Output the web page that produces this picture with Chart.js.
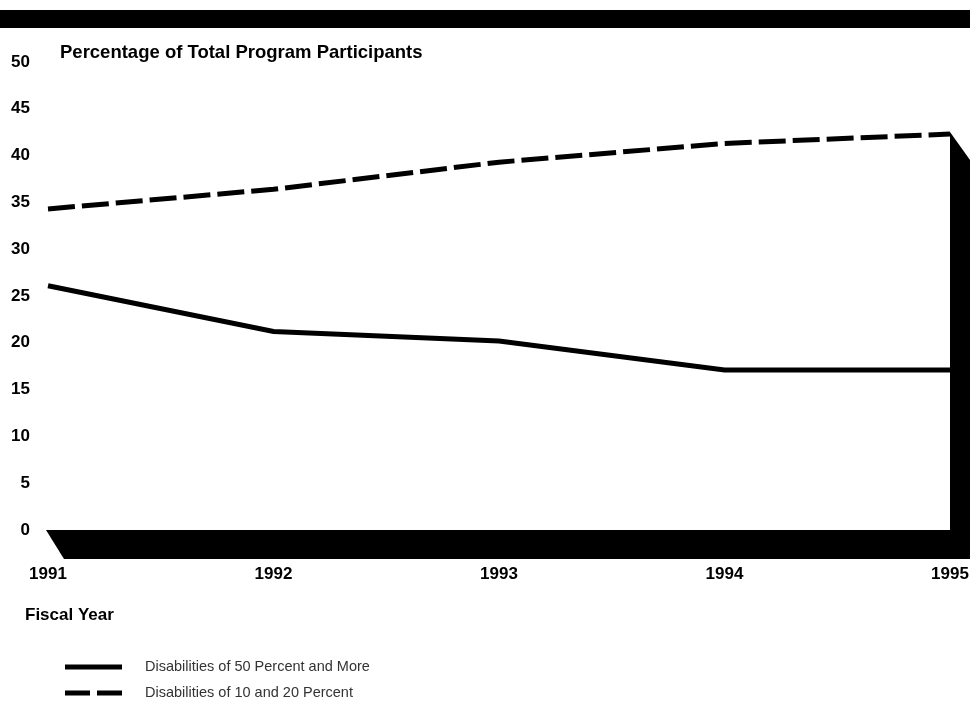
<!DOCTYPE html>
<html>
<head>
<meta charset="utf-8">
<script src="https://cdn.jsdelivr.net/npm/chart.js@4"></script>
<style>
  body { margin: 0; background: #fff; }
  canvas { display: block; }
</style>
</head>
<body>
<canvas id="chart" width="970" height="710"></canvas>
<script>
const years = ['1991', '1992', '1993', '1994', '1995'];
const fiftyPlus = [26.1, 21.2, 20.2, 17.1, 17.1];
const tenTwenty = [34.3, 36.4, 39.3, 41.3, 42.3];
const yTicks = [0, 5, 10, 15, 20, 25, 30, 35, 40, 45, 50];

const boldFont = { family: '"Liberation Sans", Arial, sans-serif', size: 17, weight: 'bold' };

// frame: top bar, floor, right wall, captions and legend
const framePlugin = {
  id: 'frame',
  beforeDatasetsDraw(chart) {
    const { ctx, chartArea, scales } = chart;
    const y = scales.y;
    ctx.save();
    ctx.fillStyle = '#000';
    // top bar
    ctx.fillRect(0, 10, chart.width, 18);
    // floor
    const floorTop = y.getPixelForValue(0);
    ctx.beginPath();
    ctx.moveTo(chartArea.left - 2, floorTop);
    ctx.lineTo(chart.width, floorTop);
    ctx.lineTo(chart.width, floorTop + 29);
    ctx.lineTo(chartArea.left + 16, floorTop + 29);
    ctx.closePath();
    ctx.fill();
    // right wall
    const wallTop = y.getPixelForValue(tenTwenty[tenTwenty.length - 1]);
    ctx.beginPath();
    ctx.moveTo(chartArea.right, wallTop - 2);
    ctx.lineTo(chart.width, wallTop + 26);
    ctx.lineTo(chart.width, floorTop + 29);
    ctx.lineTo(chartArea.right, floorTop + 29);
    ctx.closePath();
    ctx.fill();
    ctx.restore();
  },
  afterDraw(chart) {
    const { ctx } = chart;
    ctx.save();
    ctx.fillStyle = '#000';
    ctx.textBaseline = 'middle';
    ctx.font = 'bold 18.5px "Liberation Sans", Arial, sans-serif';
    ctx.fillText('Percentage of Total Program Participants', 60, 53);
    ctx.font = 'bold 17px "Liberation Sans", Arial, sans-serif';
    ctx.fillText('Fiscal Year', 25, 615);

    // legend
    ctx.font = '14.5px "Liberation Sans", Arial, sans-serif';
    const rows = [667, 693];
    chart.data.datasets.forEach((ds, i) => {
      const ry = rows[i];
      ctx.strokeStyle = ds.borderColor;
      ctx.lineWidth = 5;
      ctx.setLineDash(ds.borderDash && ds.borderDash.length ? [25, 7] : []);
      ctx.beginPath();
      ctx.moveTo(65, ry);
      ctx.lineTo(122, ry);
      ctx.stroke();
      ctx.setLineDash([]);
      ctx.fillStyle = '#333';
      ctx.fillText(ds.label, 145, ry);
    });
    ctx.restore();
  }
};

new Chart(document.getElementById('chart'), {
  type: 'line',
  data: {
    labels: years,
    datasets: [
      {
        label: 'Disabilities of 50 Percent and More',
        data: fiftyPlus,
        borderColor: '#000',
        borderWidth: 5,
        pointRadius: 0,
        tension: 0
      },
      {
        label: 'Disabilities of 10 and 20 Percent',
        data: tenTwenty,
        borderColor: '#000',
        borderWidth: 5,
        borderDash: [27, 7],
        pointRadius: 0,
        tension: 0
      }
    ]
  },
  options: {
    responsive: false,
    animation: false,
    layout: { padding: { left: 0, right: 20, top: 62, bottom: 120 } },
    plugins: {
      legend: { display: false },
      tooltip: { enabled: false }
    },
    scales: {
      x: {
        offset: false,
        grid: { display: false, drawTicks: false },
        border: { display: false },
        ticks: { font: boldFont, color: '#000', padding: 34, maxRotation: 0, autoSkip: false },
        afterFit: s => { s.height = 60; s.paddingLeft = 0; s.paddingRight = 0; }
      },
      y: {
        min: 0,
        max: 50,
        afterBuildTicks: s => { s.ticks = yTicks.map(v => ({ value: v })); },
        grid: { display: false, drawTicks: false },
        border: { display: false },
        ticks: { font: boldFont, color: '#000', padding: 18 },
        afterFit: s => { s.width = 48; s.paddingTop = 0; s.paddingBottom = 0; }
      }
    }
  },
  plugins: [framePlugin]
});
</script>
</body>
</html>
